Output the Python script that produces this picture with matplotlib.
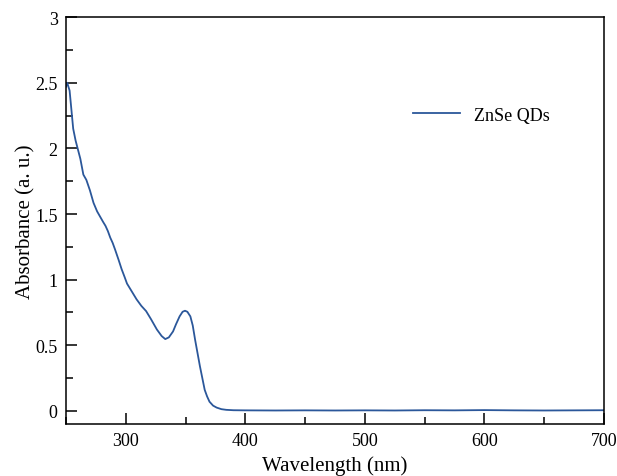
import matplotlib
matplotlib.use("Agg")
import matplotlib.pyplot as plt
from matplotlib.ticker import MultipleLocator

plt.rcParams['font.family'] = ['Liberation Serif', 'DejaVu Serif']

wavelength = [250, 251, 253, 256, 258, 260, 262, 264.5, 267, 270, 273, 276, 278.5,
              281, 283, 285, 287, 289, 291, 294, 296.5, 299, 301, 305, 309, 313,
              317, 321, 326, 330, 333, 336, 339.5, 342, 345, 347.5, 349.5, 351.5,
              354, 356, 358, 360, 362, 364, 366, 368, 370, 373, 376, 380, 384, 390,
              400, 425, 450, 475, 500, 525, 550, 575, 600, 625, 650, 675, 700]
absorbance = [2.47, 2.50, 2.44, 2.15, 2.06, 1.99, 1.92, 1.80, 1.76, 1.68, 1.585, 1.52,
              1.48, 1.44, 1.41, 1.37, 1.32, 1.28, 1.23, 1.15, 1.08, 1.02, 0.97,
              0.91, 0.85, 0.80, 0.76, 0.70, 0.62, 0.57, 0.547, 0.56, 0.605, 0.66,
              0.72, 0.755, 0.763, 0.755, 0.72, 0.65, 0.54, 0.44, 0.34, 0.25, 0.16,
              0.11, 0.07, 0.04, 0.025, 0.013, 0.008, 0.005,
              0.004, 0.003, 0.004, 0.003, 0.004, 0.003, 0.005, 0.004, 0.006, 0.004,
              0.003, 0.004, 0.005]

fig = plt.figure(figsize=(6.17, 4.77), dpi=100)
ax = fig.add_axes([0.107, 0.109, 0.872, 0.853])

ax.plot(wavelength, absorbance, color='#2b579a', lw=1.3, label='ZnSe QDs')

ax.set_xlim(250, 700)
ax.set_ylim(-0.1, 3)
ax.xaxis.set_major_locator(MultipleLocator(100))
ax.xaxis.set_minor_locator(MultipleLocator(50))
ax.yaxis.set_major_locator(MultipleLocator(0.5))
ax.yaxis.set_minor_locator(MultipleLocator(0.25))
ax.set_yticks([0, 0.5, 1, 1.5, 2, 2.5, 3])
ax.set_yticklabels(['0', '0.5', '1', '1.5', '2', '2.5', '3'])

ax.tick_params(which='both', direction='in', top=False, right=False,
               labelsize=13, width=1.1)
ax.tick_params(which='major', length=8, pad=6)
ax.tick_params(which='minor', length=5)
for s in ax.spines.values():
    s.set_linewidth(1.1)

ax.set_xlabel('Wavelength (nm)', fontsize=15, labelpad=4)
ax.set_ylabel('Absorbance (a. u.)', fontsize=15, labelpad=0)

ax.legend(loc='upper right', bbox_to_anchor=(0.93, 0.82), frameon=False,
          fontsize=13, handlelength=2.6, handletextpad=0.8)

fig.savefig('out.png', dpi=100)
